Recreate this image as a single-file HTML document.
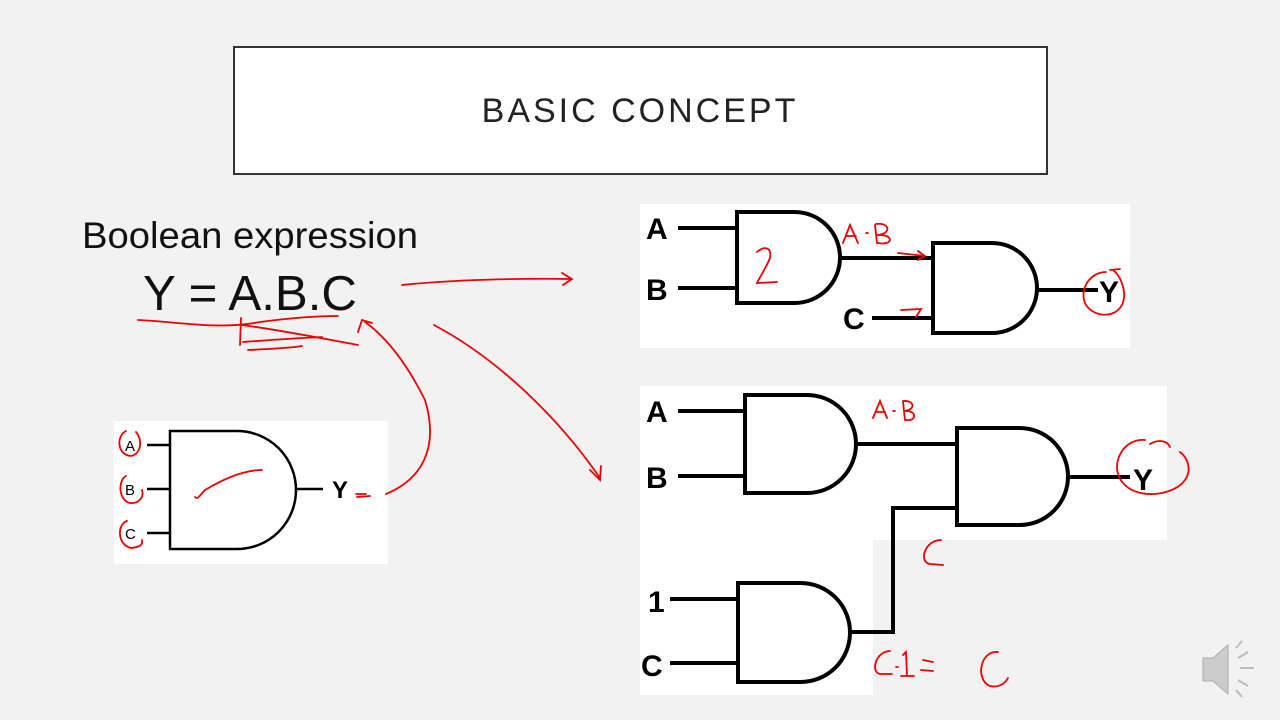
<!DOCTYPE html>
<html><head><meta charset="utf-8"><style>
html,body{margin:0;padding:0;background:#f2f2f2;}
svg{display:block;}
</style></head><body>
<svg width="1280" height="720" viewBox="0 0 1280 720" xmlns="http://www.w3.org/2000/svg">
<rect x="0" y="0" width="1280" height="720" fill="#f2f2f2"/>
<rect x="234" y="47" width="813" height="127" fill="#fff" stroke="#333" stroke-width="2"/>
<text x="640" y="122" text-anchor="middle" font-family="Liberation Sans, sans-serif" font-size="34" letter-spacing="3" fill="#222">BASIC CONCEPT</text>

<text x="82" y="248" font-family="Liberation Sans, sans-serif" font-size="37" fill="#111" textLength="336" lengthAdjust="spacingAndGlyphs">Boolean expression</text>
<text x="143" y="310" font-family="Liberation Sans, sans-serif" font-size="49" fill="#111" textLength="214" lengthAdjust="spacingAndGlyphs">Y = A.B.C</text>

<!-- white panels -->
<rect x="640" y="204" width="490" height="144" fill="#fff"/>
<rect x="640" y="386" width="527" height="154" fill="#fff"/>
<rect x="640" y="540" width="233" height="155" fill="#fff"/>
<rect x="114" y="421" width="274" height="143" fill="#fff"/>

<g fill="none" stroke="#000" stroke-width="4">
<path d="M737 212 H794.5 A45.5 45.5 0 0 1 794.5 303 H737 Z"/>
<path d="M933 243 H992 A45 45 0 0 1 992 333 H933 Z"/>
<path d="M678 228 H737 M678 288 H737 M840 258 H933 M872 318 H933 M1037 290 H1098"/>
<path d="M745 395 H807 A49 49 0 0 1 807 493 H745 Z"/>
<path d="M957 428 H1019.5 A48.5 48.5 0 0 1 1019.5 525 H957 Z"/>
<path d="M738 583 H800.5 A49.5 49.5 0 0 1 800.5 682 H738 Z"/>
<path d="M678 411 H745 M678 476 H745 M856 444 H957 M1068 477 H1130 M893 508 H957 M893 506 V634 M850 632 H895 M670 599 H738 M670 663 H738"/>
</g>
<g fill="none" stroke="#000" stroke-width="2.5">
<path d="M170 431 H237 A59 59 0 0 1 237 549 H170 Z"/>
<path d="M147 445 H170 M147 489 H170 M147 533 H170 M296 489 H323"/>
</g>

<g font-family="Liberation Sans, sans-serif" font-weight="bold" fill="#000">
<text x="646" y="239" font-size="30">A</text>
<text x="646" y="300" font-size="30">B</text>
<text x="843" y="329" font-size="30">C</text>
<text x="1099" y="302" font-size="30">Y</text>
<text x="646" y="422" font-size="30">A</text>
<text x="646" y="488" font-size="30">B</text>
<text x="1133" y="490" font-size="30">Y</text>
<text x="648" y="612" font-size="30">1</text>
<text x="641" y="676" font-size="30">C</text>
<text x="125" y="451" font-size="15" font-weight="normal">A</text>
<text x="125" y="495" font-size="15" font-weight="normal">B</text>
<text x="125" y="539" font-size="15" font-weight="normal">C</text>
<text x="332" y="498" font-size="24">Y</text>
</g>

<g fill="none" stroke="#e00" stroke-width="1.8" stroke-linecap="round">
<path d="M402 285 C450 280 520 278 572 279 M562 273 L572 279 L563 285"/>
<path d="M138 320 C180 322 220 330 260 322 C290 318 320 316 338 316"/>
<path d="M241 318 L240 345 M242 325 C280 330 320 338 358 345 M243 342 C270 340 300 338 322 337 M248 350 C270 349 290 348 302 346"/>
<path d="M386 494 C420 480 440 450 425 400 C410 370 390 340 365 322 M358 332 L362 320 L372 323"/>
<path d="M434 325 C500 360 560 420 600 478 M590 470 L600 480 L601 466"/>
<path d="M195 497 C198 500 200 495 205 490 C225 478 245 470 262 470"/>
<path d="M356 494 L366 494 M357 497 L370 496"/>
<path d="M126 431 C116 436 117 455 131 456 C141 454 143 440 136 432"/>
<path d="M126 476 C118 480 118 500 130 503 C140 504 144 496 142 490"/>
<path d="M127 521 C117 524 117 545 131 548 C140 547 143 545 142 540"/>
<path d="M757 252 C765 245 772 248 770 258 C765 270 758 280 757 283 L777 282"/>
<path d="M843 243 L850 225 L858 243 M846 236 L856 236 M866 233 L868 233 M875 225 L877 243 M876 224 C890 222 892 234 877 235 C895 234 893 246 878 243"/>
<path d="M898 253 L925 256 M918 251 L925 256 L918 260"/>
<path d="M901 310 L921 309 L916 317"/>
<path d="M1106 272 C1090 272 1078 290 1086 305 C1095 318 1115 318 1122 305 C1128 292 1120 275 1113 270 M1110 270 L1120 269"/>
<path d="M873 418 L880 401 L887 418 M876 412 L885 412 M893 411 L895 411 M903 402 L905 420 M903 401 C915 400 916 410 904 411 C918 410 917 422 905 420"/>
<path d="M941 540 C925 540 918 562 930 564 L943 565"/>
<path d="M890 651 C876 651 870 672 880 674 L892 674 M896 667 L898 667 M903 655 L906 652 L907 676 M901 676 L914 676 M923 660 L933 662 M921 670 L933 671 M998 652 C980 650 975 680 990 686 C998 688 1005 684 1008 678"/>
<path d="M1145 440 C1120 438 1108 470 1125 485 C1140 500 1175 495 1185 480 C1192 470 1188 458 1180 452 M1150 444 C1160 438 1168 442 1170 447"/>
</g>

<g fill="#ccc" stroke="#aaa" stroke-width="1">
<path d="M1203 658 H1213 L1228 645 V694 L1213 681 H1203 Z"/>
</g>
<g fill="none" stroke="#bbb" stroke-width="2">
<path d="M1238 658 L1248 652 M1240 668 L1254 668 M1238 680 L1248 686 M1236 648 L1242 641 M1236 690 L1242 697"/>
</g>
</svg>
</body></html>
